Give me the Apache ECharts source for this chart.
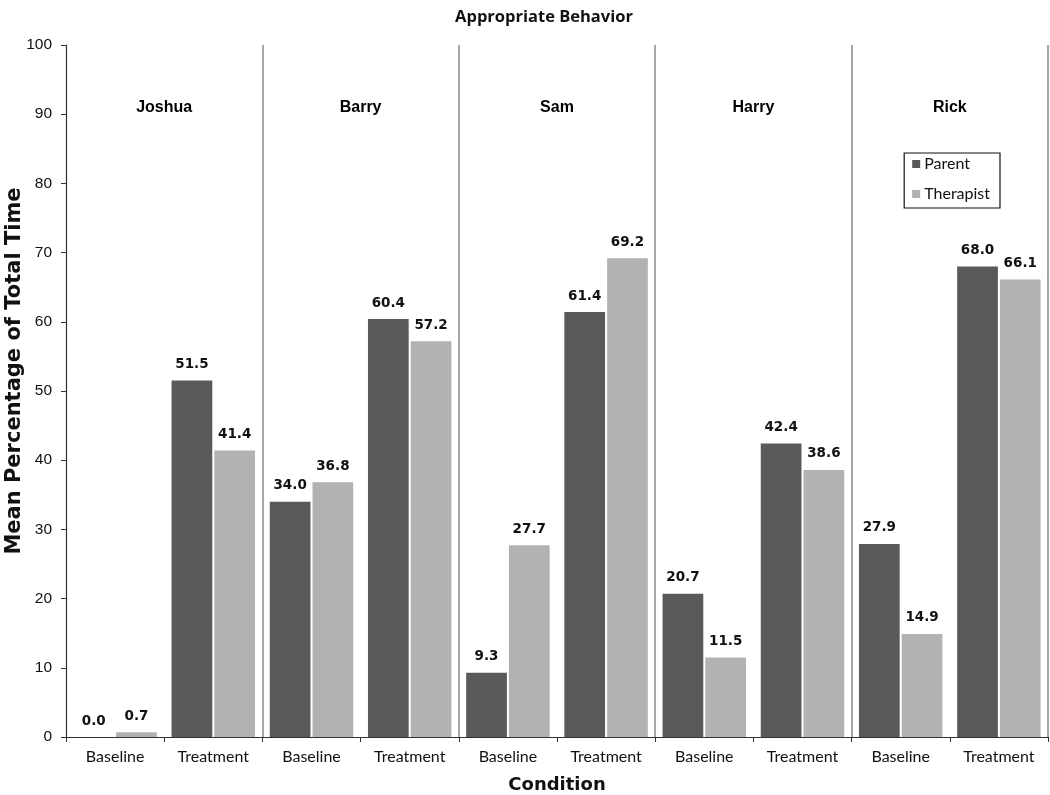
<!DOCTYPE html>
<html><head><meta charset="utf-8">
<script src="https://cdn.jsdelivr.net/npm/echarts@6/dist/echarts.min.js"></script>
<style>html,body{margin:0;padding:0;background:#fff}#c{width:1050px;height:795px}</style>
</head><body><div id="c"></div>
<script>
const participants = ['Joshua','Barry','Sam','Harry','Rick'];
const conditions = ['Baseline','Treatment'];
const parentValues = [0.0, 51.5, 34.0, 60.4, 9.3, 61.4, 20.7, 42.4, 27.9, 68.0];
const therapistValues = [0.7, 41.4, 36.8, 57.2, 27.7, 69.2, 11.5, 38.6, 14.9, 66.1];
const nameLabelY = [91, 91, 91, 91, 91];
const yTicks = {min: 0, max: 100, interval: 10};

const categories = [];
participants.forEach(p => conditions.forEach(c => categories.push(p + '|' + c)));

const chart = echarts.init(document.getElementById('c'), null, {renderer: 'canvas'});
const barLabel = {show: true, position: 'top', distance: 9, fontFamily: 'DejaVu Sans, sans-serif', fontWeight: 'bold', fontSize: 13.5, color: '#111', formatter: p => p.value.toFixed(1)};
chart.setOption({
  animation: false,
  title: {text: 'Appropriate Behavior', left: 539, textAlign: 'center', top: 4,
    textStyle: {fontFamily: 'Open Sans, sans-serif', fontWeight: 'bold', fontSize: 16.5, color: '#111'}},
  legend: {
    data: ['Parent', 'Therapist'], orient: 'vertical', right: 50, top: 153,
    borderColor: '#111', borderWidth: 1.2, padding: [3, 10, 6, 8], itemGap: 14,
    itemWidth: 8, itemHeight: 8, icon: 'rect',
    textStyle: {fontFamily: 'Lato, sans-serif', fontSize: 16, color: '#111', padding: [0, 0, 0, -1]}
  },
  grid: {left: 66, right: 2, top: 45, bottom: 58, containLabel: false, outerBoundsMode: 'none'},
  xAxis: [{
    type: 'category', data: categories,
    axisLine: {show: true, lineStyle: {color: '#333', width: 1.2}},
    axisTick: {show: true, interval: 0, length: 5, lineStyle: {color: '#333'}},
    axisLabel: {interval: 0, margin: 12, fontFamily: 'Lato, sans-serif', fontSize: 16, color: '#111', formatter: v => v.split('|')[1]},
    splitLine: {show: true, interval: (i) => i > 0 && i < categories.length && i % 2 === 0, lineStyle: {color: '#888', width: 1.5}},
    name: 'Condition', nameLocation: 'middle', nameGap: 39, nameMoveOverlap: false,
    nameTextStyle: {fontFamily: 'DejaVu Sans, sans-serif', fontWeight: 'bold', fontSize: 18, color: '#111'}
  }, {
    type: 'category', data: participants, show: false, position: 'bottom'
  }],
  yAxis: {
    type: 'value', min: yTicks.min, max: yTicks.max, interval: yTicks.interval,
    axisLine: {show: true, lineStyle: {color: '#333', width: 1.2}},
    axisTick: {show: true, length: 5, lineStyle: {color: '#333'}},
    axisLabel: {fontFamily: 'Liberation Sans, Arial, sans-serif', fontSize: 15.5, color: '#111', margin: 14},
    splitLine: {show: false},
    name: 'Mean Percentage of Total Time', nameLocation: 'middle', nameGap: 41, nameMoveOverlap: false,
    nameTextStyle: {fontFamily: 'DejaVu Sans, sans-serif', fontWeight: 'bold', fontSize: 21, color: '#111', padding: [0, 0, 0, 40]}
  },
  series: [
    {name: 'Parent', type: 'bar', data: parentValues, barGap: '5%', barCategoryGap: '15%',
     itemStyle: {color: '#595959'}, label: barLabel},
    {name: 'Therapist', type: 'bar', data: therapistValues,
     itemStyle: {color: '#b2b2b2'}, label: barLabel},
    {name: 'names', type: 'scatter', xAxisIndex: 1, symbolSize: 0,
     itemStyle: {opacity: 1},
     data: participants.map((p, i) => [p, nameLabelY[i]]),
     label: {show: true, position: 'inside', opacity: 1, formatter: p => p.name, fontFamily: 'Liberation Sans, Arial, sans-serif', fontWeight: 'bold', fontSize: 16, color: '#000'},
     emphasis: {disabled: true},
     silent: true}
  ]
});
</script></body></html>
